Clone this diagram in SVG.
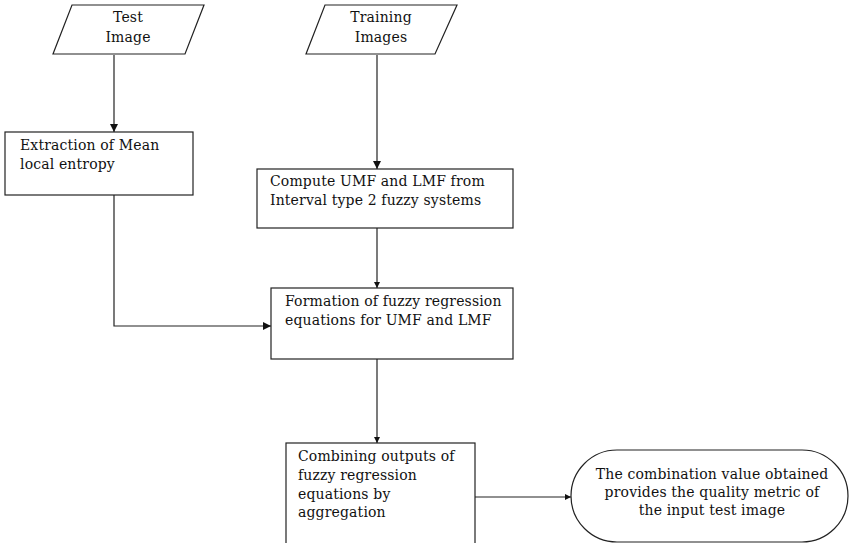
<svg xmlns="http://www.w3.org/2000/svg" width="850" height="543" viewBox="0 0 850 543">
<style>
.s{fill:#fff;stroke:#222;stroke-width:1.2}
.c{fill:none;stroke:#222;stroke-width:1.2}
text{font-family:"DejaVu Serif","Liberation Serif",serif;font-size:14px;fill:#111;letter-spacing:0.15px}
.m{text-anchor:middle}
</style>
<defs>
<marker id="ah" viewBox="0 0 10 10" refX="10" refY="5" markerWidth="8" markerHeight="8" markerUnits="userSpaceOnUse" orient="auto">
<path d="M0,0 L10,5 L0,10 Z" fill="#111"/>
</marker>
<marker id="as" viewBox="0 0 10 10" refX="10" refY="5" markerWidth="6" markerHeight="6" markerUnits="userSpaceOnUse" orient="auto">
<path d="M0,0 L10,5 L0,10 Z" fill="#111"/>
</marker>
</defs>
<g id="connectors">
<line class="c" x1="114" y1="55" x2="114" y2="132" marker-end="url(#ah)"/>
<line class="c" x1="377" y1="55" x2="377" y2="169" marker-end="url(#ah)"/>
<line class="c" x1="377" y1="228" x2="377" y2="288" marker-end="url(#as)"/>
<polyline class="c" points="114,195 114,326 271,326" marker-end="url(#ah)"/>
<line class="c" x1="377" y1="359" x2="377" y2="443" marker-end="url(#as)"/>
<line class="c" x1="475" y1="497" x2="571" y2="497" marker-end="url(#as)"/>
</g>
<g id="test-image">
<polygon class="s" points="72,5 204,5 185,54 53,54"/>
<text class="m" x="128" y="22">Test</text>
<text class="m" x="128" y="42">Image</text>
</g>
<g id="training-images">
<polygon class="s" points="325,5 457,5 435,54 306,54"/>
<text class="m" x="381" y="22">Training</text>
<text class="m" x="381" y="42">Images</text>
</g>
<g id="extraction">
<rect class="s" x="5" y="132" width="188" height="63"/>
<text x="20" y="150">Extraction of Mean</text>
<text x="20" y="169">local entropy</text>
</g>
<g id="compute">
<rect class="s" x="257" y="169" width="256" height="59"/>
<text x="270" y="186">Compute UMF and LMF from</text>
<text x="270" y="205">Interval type 2 fuzzy systems</text>
</g>
<g id="formation">
<rect class="s" x="271" y="288" width="242" height="71"/>
<text x="285" y="306">Formation of fuzzy regression</text>
<text x="285" y="325">equations for UMF and LMF</text>
</g>
<g id="combining">
<rect class="s" x="286" y="443" width="189" height="110"/>
<text x="298" y="461">Combining outputs of</text>
<text x="298" y="480">fuzzy regression</text>
<text x="298" y="499">equations by</text>
<text x="298" y="517">aggregation</text>
</g>
<g id="result">
<rect class="s" x="571" y="450" width="277" height="92" rx="46" ry="46"/>
<text class="m" x="712" y="479">The combination value obtained</text>
<text class="m" x="712" y="497">provides the quality metric of</text>
<text class="m" x="712" y="515">the input test image</text>
</g>
</svg>
